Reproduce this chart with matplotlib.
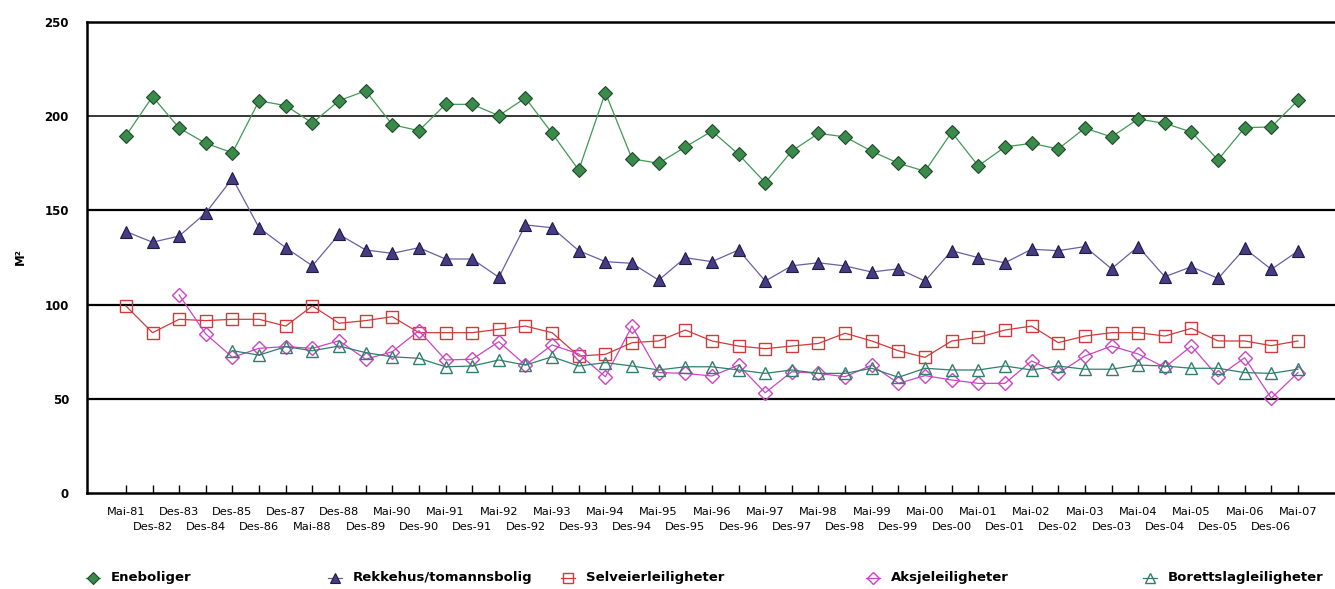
import matplotlib
matplotlib.use("Agg")
import matplotlib.pyplot as plt
from matplotlib.lines import Line2D

# Survey dates (two-row labels on the x axis)
periods = ["Mai-81", "Des-82", "Des-83", "Des-84", "Des-85", "Des-86", "Des-87", "Mai-88",
           "Des-88", "Des-89", "Mai-90", "Des-90", "Mai-91", "Des-91", "Mai-92", "Des-92",
           "Mai-93", "Des-93", "Mai-94", "Des-94", "Mai-95", "Des-95", "Mai-96", "Des-96",
           "Mai-97", "Des-97", "Mai-98", "Des-98", "Mai-99", "Des-99", "Mai-00", "Des-00",
           "Mai-01", "Des-01", "Mai-02", "Des-02", "Mai-03", "Des-03", "Mai-04", "Des-04",
           "Mai-05", "Des-05", "Mai-06", "Des-06", "Mai-07"]

# Average size in square metres per dwelling type
eneboliger = [189.6, 210.4, 193.7, 185.6, 180.6, 208.2, 205.6, 196.4, 208.2, 213.5,
              195.5, 192.3, 206.3, 206.3, 200.3, 209.7, 190.9, 171.4, 212.5, 177.4,
              175.0, 183.7, 192.1, 179.8, 164.7, 181.5, 190.9, 189.0, 181.4, 175.0,
              170.8, 191.5, 173.6, 183.7, 185.6, 182.6, 193.7, 189.0, 198.5, 196.2,
              191.6, 176.8, 193.9, 194.3, 208.4]
rekkehus = [138.8, 133.1, 136.4, 148.7, 167.0, 140.8, 130.2, 120.6, 137.3, 129.0,
            127.2, 130.2, 124.2, 124.2, 114.5, 142.3, 140.8, 128.6, 122.8, 121.9,
            113.0, 124.9, 122.8, 129.0, 112.5, 120.6, 122.2, 120.5, 117.3, 119.0,
            112.5, 128.6, 124.9, 122.2, 129.4, 128.6, 130.8, 119.0, 130.8, 114.8,
            120.1, 113.9, 129.8, 118.7, 128.4]
selveier = [99.3, 85.1, 92.2, 91.5, 92.2, 92.2, 88.6, 99.3, 90.1, 91.5,
            93.6, 85.1, 85.1, 85.1, 86.9, 88.6, 85.1, 72.7, 73.6, 79.8,
            80.7, 86.5, 80.7, 78.0, 76.6, 78.0, 79.4, 84.8, 80.7, 75.5,
            72.0, 80.7, 82.6, 86.5, 88.6, 79.8, 83.3, 85.1, 85.1, 83.3,
            87.4, 80.7, 80.7, 78.2, 80.7]
aksje = [None, None, 105.1, 84.4, 72.0, 76.8, 77.7, 76.8, 80.8, 71.0,
         75.0, 86.2, 70.6, 71.0, 80.3, 67.9, 78.6, 73.8, 61.7, 88.6,
         63.9, 63.5, 62.1, 67.9, 53.2, 64.4, 63.5, 61.7, 67.9, 58.2,
         62.3, 60.0, 58.2, 58.2, 70.1, 63.5, 72.7, 78.0, 73.8, 66.7,
         78.0, 61.7, 71.8, 50.3, 63.9]
borettslag = [None, None, None, None, 75.5, 73.2, 77.7, 75.5, 78.0, 74.5,
              72.3, 71.5, 67.0, 67.4, 70.6, 67.9, 72.3, 67.4, 69.2, 67.4,
              65.3, 67.0, 67.0, 65.3, 63.5, 65.3, 63.5, 63.5, 66.2, 61.4,
              66.2, 65.3, 65.3, 67.4, 65.3, 67.4, 65.7, 65.7, 67.9, 67.4,
              66.2, 66.2, 63.9, 63.5, 65.7]

y_ticks = [0, 50, 100, 150, 200, 250]

series = [
    ("Eneboliger", eneboliger, dict(color="#3f9a55", marker="D", ms=7,
                                    mfc="#3a8a4c", mec="#1f4a28", mew=0.8)),
    ("Rekkehus/tomannsbolig", rekkehus, dict(color="#6b5ea6", marker="^", ms=9,
                                             mfc="#463c86", mec="#1e1a40", mew=0.8)),
    ("Selveierleiligheter", selveier, dict(color="#d23a3a", marker="s", ms=9,
                                           mfc="none", mec="#d23a3a", mew=1.0)),
    ("Aksjeleiligheter", aksje, dict(color="#cc44c4", marker="D", ms=7,
                                     mfc="none", mec="#cc44c4", mew=1.0)),
    ("Borettslagleiligheter", borettslag, dict(color="#2f7f6c", marker="^", ms=9,
                                               mfc="none", mec="#2f7f6c", mew=1.0)),
]

fig = plt.figure(figsize=(13.35, 5.89), dpi=100)
ax = fig.add_axes([87 / 1335, 96 / 589, 1248 / 1335, 471 / 589])

x = list(range(len(periods)))
for name, values, style in series:
    xs = [xi for xi, v in zip(x, values) if v is not None]
    ys = [v for v in values if v is not None]
    ax.plot(xs, ys, lw=0.9, zorder=3, **style)

# Horizontal reference lines
for yv in y_ticks[1:-1]:
    ax.axhline(yv, color="black", lw=1.1 if yv == 200 else 1.6, zorder=1)

ax.set_ylim(0, 250)
ax.set_xlim(-1.46, 45.39)
ax.set_yticks(y_ticks)
ax.set_yticklabels([str(v) for v in y_ticks], fontsize=8.5, fontweight="bold")
ax.tick_params(axis="y", length=0, pad=13)

# Date labels alternate between an upper row (major ticks) and a lower row (minor ticks)
ax.set_xticks(x[0::2])
ax.set_xticklabels(periods[0::2], fontsize=8.2)
ax.set_xticks(x[1::2], minor=True)
ax.set_xticklabels(periods[1::2], minor=True, fontsize=8.2)
ax.tick_params(axis="x", which="major", direction="in", length=6, width=1, pad=10)
ax.tick_params(axis="x", which="minor", direction="in", length=6, width=1, pad=21)

for side in ("left", "bottom", "top"):
    ax.spines[side].set_linewidth(1.8)
    ax.spines[side].set_color("black")
ax.spines["right"].set_visible(False)

fig.text(20 / 1335, 1 - 257 / 589, "M²", rotation=90, ha="center", va="center",
         fontsize=8.5, fontweight="bold")

# Legend row along the bottom: short line segment with the marker centred on it
legend_x = [(93, 111), (335, 353), (568, 586), (873, 891), (1150, 1168)]
legend_y = 1 - 578 / 589
half = 7 / 1335
for (mx, tx), (name, values, style) in zip(legend_x, series):
    cx = mx / 1335
    handle = Line2D([cx - half, cx, cx + half], [legend_y] * 3,
                    transform=fig.transFigure, color=style["color"], lw=0.9,
                    marker=style["marker"], ms=style["ms"] * 0.85,
                    mfc=style["mfc"], mec=style["mec"], mew=style["mew"],
                    markevery=[1])
    fig.add_artist(handle)
    fig.text(tx / 1335, legend_y, name, ha="left", va="center",
             fontsize=9.5, fontweight="bold")

fig.savefig("out.png", dpi=100, facecolor="white")
